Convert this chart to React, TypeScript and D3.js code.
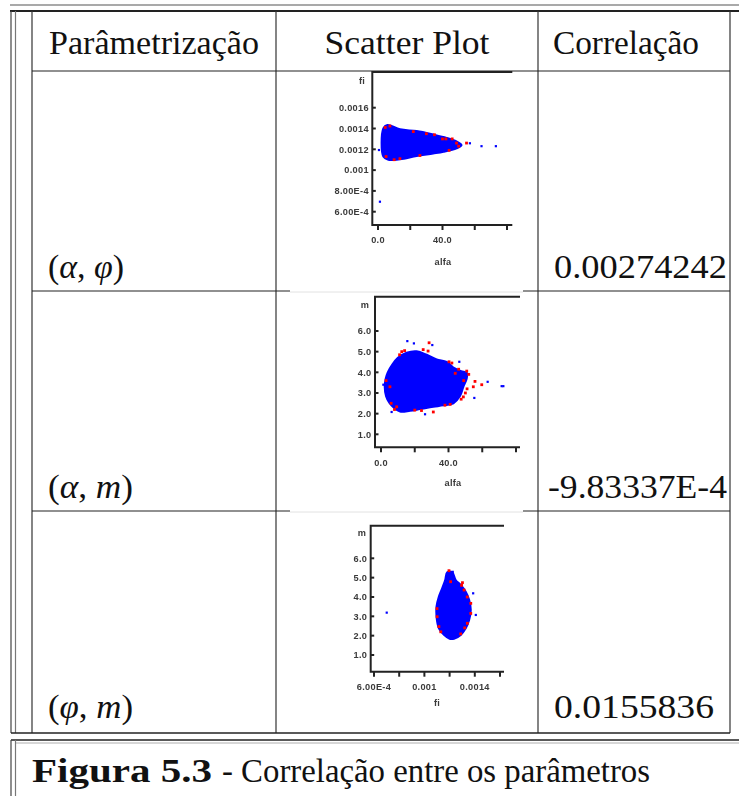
import React from "react";
import * as d3 from "d3";

// ---------- table content ----------
const headers = ["Parâmetrização", "Scatter Plot", "Correlação"];
const paramPairs: [string, string][] = [
  ["α", "φ"],
  ["α", "m"],
  ["φ", "m"],
];
const correlations = ["0.00274242", "-9.83337E-4", "0.0155836"];
const captionBold = "Figura 5.3";
const captionRest = "- Correlação entre os parâmetros";

// ---------- plot 1 : (alfa, fi) ----------
const p1XTicks = [0, 20, 40, 60, 80];
const p1XTickLabels = ["0.0", "", "40.0", "", ""];
const p1YTicks = [0.0016, 0.0014, 0.0012, 0.001, 0.0008, 0.0006];
const p1YTickLabels = ["0.0016", "0.0014", "0.0012", "0.001", "8.00E-4", "6.00E-4"];
const p1Blob: [number, number][] = [
  [3.3, 0.0014], [5.8, 0.001434], [13.6, 0.001392], [24, 0.001375], [34.2, 0.001342],
  [42.5, 0.00131], [48.7, 0.001275], [51.8, 0.00124], [48.7, 0.00121], [40.6, 0.001177],
  [34.2, 0.00116], [24, 0.001136], [13.6, 0.001104], [6.4, 0.0011], [3.3, 0.00113],
];
const p1Red: [number, number][] = [
  [7.4, 0.001424], [21.9, 0.00137], [42.1, 0.0013], [48.7, 0.00126], [54.9, 0.00126],
  [5, 0.00113], [13.6, 0.00111], [44.1, 0.00119], [40, 0.0013], [30, 0.00135],
  [4.5, 0.00141], [10, 0.0011], [26, 0.00114], [46, 0.0013], [50, 0.00123], [35, 0.00134],
];
const p1Blue: [number, number][] = [
  [0.6, 0.001193], [1.2, 0.000696], [64.2, 0.00123], [73.1, 0.00123], [57, 0.001258],
];

// ---------- plot 2 : (alfa, m) ----------
const p2XTicks = [0, 20, 40, 60, 80];
const p2XTickLabels = ["0.0", "", "40.0", "", ""];
const p2YTicks = [6, 5, 4, 3, 2, 1];
const p2YTickLabels = ["6.0", "5.0", "4.0", "3.0", "2.0", "1.0"];
const p2Blob: [number, number][] = [
  [4.0, 4.0], [6.5, 4.35], [10, 4.7], [15.2, 4.95], [21.1, 5.02], [27.1, 4.85],
  [33, 4.62], [38.9, 4.5], [43.5, 4.2], [47.5, 4.05], [50.8, 3.98], [50.8, 3.7],
  [48.8, 3.3], [46.8, 2.85], [42.9, 2.5], [36.9, 2.4], [31, 2.33], [23.1, 2.22],
  [17.2, 2.14], [11.3, 2.1], [7.8, 2.28], [5.0, 2.52], [3.0, 2.85], [2.2, 3.3], [2.8, 3.7],
];
const p2Red: [number, number][] = [
  [28.5, 5.43], [12.3, 5.0], [27.9, 5.03], [40.3, 4.51], [50.8, 4.06], [55.7, 3.56],
  [59.7, 3.4], [54.7, 3.3], [48.8, 2.81], [31, 2.08], [5.3, 3.3], [9.3, 2.33],
  [20, 2.17], [44, 3.95], [37.9, 2.41], [52, 3.9], [50, 3.0], [14, 5.05], [11, 4.85],
  [25, 5.1], [42, 4.45], [46, 4.15], [49, 3.6], [51, 3.2], [47.5, 2.7], [6, 2.5],
  [8, 2.2], [24, 2.15], [3, 3.6], [41, 2.45],
];
const p2Blue: [number, number][] = [
  [15.6, 5.51], [19.5, 5.4], [30.4, 5.32], [46.4, 4.51], [63.2, 3.54], [71.5, 3.33],
  [72.5, 3.33], [55.3, 2.76], [1.4, 3.4], [6.3, 2.08], [26.1, 1.97],
];

// ---------- plot 3 : (fi, m) ----------
const p3XTicks = [0.0006, 0.0008, 0.001, 0.0012, 0.0014, 0.0016];
const p3XTickLabels = ["6.00E-4", "", "0.001", "", "0.0014", ""];
const p3YTicks = [6, 5, 4, 3, 2, 1];
const p3YTickLabels = ["6.0", "5.0", "4.0", "3.0", "2.0", "1.0"];
const p3Blob: [number, number][] = [
  [0.001181, 5.28], [0.001221, 5.28], [0.001248, 4.88], [0.001288, 4.62], [0.001328, 4.27],
  [0.001355, 3.85], [0.001368, 3.33], [0.001355, 2.81], [0.001328, 2.38], [0.001288, 2.04],
  [0.001235, 1.84], [0.0012, 1.84], [0.001155, 2.04], [0.001115, 2.38], [0.001096, 2.98],
  [0.001096, 3.5], [0.001115, 4.02], [0.001141, 4.45], [0.001165, 4.88],
];
const p3Red: [number, number][] = [
  [0.001195, 5.36], [0.001208, 4.79], [0.001302, 4.74], [0.001315, 4.36], [0.001368, 3.67],
  [0.001101, 2.98], [0.001115, 2.47], [0.001368, 3.15], [0.001341, 2.64], [0.001288, 2.09],
  [0.001295, 4.6], [0.00134, 4.0], [0.0011, 3.4], [0.00113, 2.2], [0.00132, 2.4],
];
const p3Blue: [number, number][] = [
  [0.000701, 3.19], [0.001387, 4.19], [0.001408, 3.07], [0.001225, 5.3],
];

// ---------- layout ----------
type Pt = [number, number];
interface PanelCfg {
  xDomain: [number, number];
  xRange: [number, number];
  yDomain: [number, number];
  yRange: [number, number];
  frame: { l: number; r: number; t: number; b: number };
  xTicks: number[];
  xTickLabels: string[];
  yTicks: number[];
  yTickLabels: string[];
  xLabel: string;
  xLabelPos: [number, number];
  yLabel: string;
  yLabelPos: [number, number];
  blob: Pt[];
  red: Pt[];
  blue: Pt[];
}

const panels: PanelCfg[] = [
  {
    xDomain: [0, 80], xRange: [378, 507],
    yDomain: [0.0016, 0.0006], yRange: [107.7, 211.7],
    frame: { l: 372.3, r: 512.3, t: 72, b: 225 },
    xTicks: p1XTicks, xTickLabels: p1XTickLabels,
    yTicks: p1YTicks, yTickLabels: p1YTickLabels,
    xLabel: "alfa", xLabelPos: [443, 262],
    yLabel: "fi", yLabelPos: [362, 81],
    blob: p1Blob, red: p1Red, blue: p1Blue,
  },
  {
    xDomain: [0, 80], xRange: [381, 516],
    yDomain: [6, 1], yRange: [331, 434.3],
    frame: { l: 375, r: 520, t: 296.7, b: 447.3 },
    xTicks: p2XTicks, xTickLabels: p2XTickLabels,
    yTicks: p2YTicks, yTickLabels: p2YTickLabels,
    xLabel: "alfa", xLabelPos: [453, 483],
    yLabel: "m", yLabelPos: [365, 305],
    blob: p2Blob, red: p2Red, blue: p2Blue,
  },
  {
    xDomain: [0.0006, 0.0016], xRange: [374, 500],
    yDomain: [6, 1], yRange: [558.3, 655],
    frame: { l: 370.7, r: 504, t: 525.7, b: 671.7 },
    xTicks: p3XTicks, xTickLabels: p3XTickLabels,
    yTicks: p3YTicks, yTickLabels: p3YTickLabels,
    xLabel: "fi", xLabelPos: [437, 703],
    yLabel: "m", yLabelPos: [362, 533],
    blob: p3Blob, red: p3Red, blue: p3Blue,
  },
];

const colX = [32, 276, 538, 730];
const rowY = [11, 71, 291, 511, 733];
const imgX: [number, number] = [290, 523];
const serif = "Liberation Serif";
const sans = "Liberation Sans";

function Panel({ cfg }: { cfg: PanelCfg }) {
  const x = d3.scaleLinear().domain(cfg.xDomain).range(cfg.xRange);
  const y = d3.scaleLinear().domain(cfg.yDomain).range(cfg.yRange);
  const blobPath = d3
    .line<Pt>()
    .x((d) => x(d[0]))
    .y((d) => y(d[1]))
    .curve(d3.curveCatmullRomClosed.alpha(0.5))(cfg.blob) as string;
  const f = cfg.frame;
  const labelProps = {
    fontFamily: sans,
    fontSize: 9.2,
    fontWeight: 700,
    fill: "#3a3a3a",
    letterSpacing: 0.3,
  };
  return (
    <g filter="url(#soft)">
      <path d={blobPath} fill="#0000ff" stroke="#0000ff" strokeWidth={2} />
      {cfg.red.map((d, i) => (
        <rect key={"r" + i} x={x(d[0]) - 1.4} y={y(d[1]) - 1.4} width={2.8} height={2.8} fill="#ff0000" />
      ))}
      {cfg.blue.map((d, i) => (
        <rect key={"b" + i} x={x(d[0]) - 1.1} y={y(d[1]) - 1.1} width={2.2} height={2.2} fill="#0000ff" />
      ))}
      <path d={`M${f.r},${f.t}H${f.l}V${f.b}H${f.r}`} fill="none" stroke="#222" strokeWidth={2} />
      {cfg.yTicks.map((t, i) => (
        <g key={"yt" + i}>
          <line x1={f.l} x2={f.l + 3.5} y1={y(t)} y2={y(t)} stroke="#222" strokeWidth={2} />
          <text x={f.l - 3.5} y={y(t)} dy="0.35em" textAnchor="end" {...labelProps}>
            {cfg.yTickLabels[i]}
          </text>
        </g>
      ))}
      {cfg.xTicks.map((t, i) => (
        <g key={"xt" + i}>
          <line x1={x(t)} x2={x(t)} y1={f.b} y2={f.b + 5} stroke="#222" strokeWidth={2} />
          {cfg.xTickLabels[i] && (
            <text x={x(t)} y={f.b + 15} dy="0.35em" textAnchor="middle" {...labelProps}>
              {cfg.xTickLabels[i]}
            </text>
          )}
        </g>
      ))}
      <text x={cfg.xLabelPos[0]} y={cfg.xLabelPos[1]} dy="0.35em" textAnchor="middle" {...labelProps}>
        {cfg.xLabel}
      </text>
      <text x={cfg.yLabelPos[0]} y={cfg.yLabelPos[1]} dy="0.35em" textAnchor="middle" {...labelProps}>
        {cfg.yLabel}
      </text>
    </g>
  );
}

export default function App() {
  const headerCenters = [154, 407, 626];
  const headerWidths = [210, 165, 146];
  const paramWidths = [76, 85, 85];
  const corrX = [554, 548, 554];
  const corrW = [173, 179, 160];
  const rowBase = [278, 498, 718];
  const textProps = {
    fontFamily: serif,
    fontSize: 33,
    fill: "#111",
    lengthAdjust: "spacingAndGlyphs",
  };
  return (
    <svg
      width={739}
      height={796}
      style={{ position: "absolute", left: 0, top: 0, background: "#fff" }}
    >
      <defs>
        <filter id="soft" x="-10%" y="-10%" width="120%" height="120%">
          <feGaussianBlur stdDeviation={0.45} />
        </filter>
      </defs>
      <rect x={0} y={0} width={739} height={796} fill="#fff" />
      <line x1={10} x2={739} y1={5} y2={5} stroke="#555" strokeWidth={1.2} />
      <line x1={10} x2={739} y1={11} y2={11} stroke="#222" strokeWidth={1.8} />
      <line x1={11} x2={11} y1={11} y2={733} stroke="#444" strokeWidth={1.2} />
      <line x1={15.5} x2={15.5} y1={11} y2={733} stroke="#777" strokeWidth={1.2} />
      {colX.map((cx, i) => (
        <line key={"c" + i} x1={cx} x2={cx} y1={11} y2={733} stroke="#333" strokeWidth={1.2} />
      ))}
      <line x1={32} x2={730} y1={rowY[1]} y2={rowY[1]} stroke="#222" strokeWidth={1.2} />
      {[rowY[2], rowY[3]].map((ry, i) => (
        <g key={"h" + i}>
          <line x1={32} x2={imgX[0]} y1={ry} y2={ry} stroke="#222" strokeWidth={1.2} />
          <line x1={imgX[0]} x2={imgX[1]} y1={ry + 1} y2={ry + 1} stroke="#e2e2e2" strokeWidth={1} />
          <line x1={imgX[1]} x2={730} y1={ry} y2={ry} stroke="#222" strokeWidth={1.2} />
        </g>
      ))}
      <line x1={11} x2={730} y1={733} y2={733} stroke="#222" strokeWidth={1.6} />
      <line x1={11} x2={739} y1={740} y2={740} stroke="#222" strokeWidth={1.6} />
      <line x1={15} x2={739} y1={743} y2={743} stroke="#999" strokeWidth={0.8} />
      <line x1={11} x2={11} y1={740} y2={796} stroke="#444" strokeWidth={1.2} />
      <line x1={15.5} x2={15.5} y1={740} y2={796} stroke="#777" strokeWidth={1.2} />

      {headers.map((h, i) => (
        <text
          key={"hd" + i}
          x={headerCenters[i] - headerWidths[i] / 2}
          y={53.5}
          textLength={headerWidths[i]}
          {...textProps}
        >
          {h}
        </text>
      ))}

      {paramPairs.map((p, i) => (
        <g key={"row" + i}>
          <text x={48} y={rowBase[i]} textLength={paramWidths[i]} {...textProps}>
            (<tspan fontStyle="italic">{p[0]}</tspan>, <tspan fontStyle="italic">{p[1]}</tspan>)
          </text>
          <text x={corrX[i]} y={rowBase[i]} textLength={corrW[i]} {...textProps}>
            {correlations[i]}
          </text>
        </g>
      ))}

      {panels.map((cfg, i) => (
        <Panel key={"p" + i} cfg={cfg} />
      ))}

      <text x={32} y={782} fontWeight={700} textLength={180} {...textProps}>
        {captionBold}
      </text>
      <text x={222} y={782} textLength={428} {...textProps}>
        {captionRest}
      </text>
    </svg>
  );
}
